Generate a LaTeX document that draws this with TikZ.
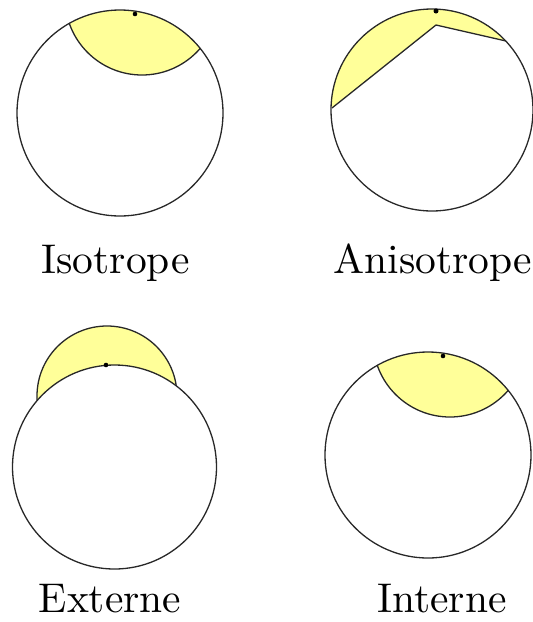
\documentclass[tikz,border=0pt]{standalone}
\usepackage{fontspec}
\usepackage{tikz}
\newfontfamily\lmten{lmroman10-regular.otf}
\definecolor{capyellow}{RGB}{255,255,153}
\definecolor{rim}{RGB}{40,40,40}
\tikzset{
  rimline/.style={draw=rim, line width=1.3pt},
  capfill/.style={fill=capyellow},
  dotmark/.style={fill=black},
  lbl/.style={anchor=base, inner sep=0pt, text depth=0pt, font=\lmten\fontsize{41.5}{48}\selectfont}
}
\begin{document}
\begin{tikzpicture}[x=1pt,y=-1pt]
\useasboundingbox (0,0) rectangle (533,622);
% Isotrope
\begin{scope}
  \clip (120,113) circle (103);
  \fill[capfill] (142,-2) circle (77);
  \draw[rimline] (142,-2) circle (77);
\end{scope}
\draw[rimline] (120,113) circle (103);
\fill[dotmark] (135,14) circle (2.3);
\node[lbl] (iso) at (115.5,273.5) {Isotrope};
% Anisotrope
\begin{scope}
  \clip (432,110) circle (101);
  \fill[capfill] (332,108) -- (436,25) -- (506,41) -- (545,-20) -- (320,-20) -- cycle;
\end{scope}
\draw[rimline] (332,108) -- (436,25) -- (506,41);
\draw[rimline] (432,110) circle (101);
\fill[dotmark] (436,11) circle (2.5);
\node[lbl] (aniso) at (433,273.5) {Anisotrope};
% Externe
\draw[rimline, capfill] (107,396) circle (70);
\draw[rimline, fill=white] (114.5,467) circle (102);
\fill[dotmark] (106,365) circle (2.3);
\node[lbl] (ext) at (110,612) {Externe};
% Interne
\begin{scope}
  \clip (428,455) circle (103);
  \fill[capfill] (450,340) circle (77);
  \draw[rimline] (450,340) circle (77);
\end{scope}
\draw[rimline] (428,455) circle (103);
\fill[dotmark] (443,356) circle (2.3);
\node[lbl] (int) at (442,612) {Interne};
\end{tikzpicture}
\end{document}
